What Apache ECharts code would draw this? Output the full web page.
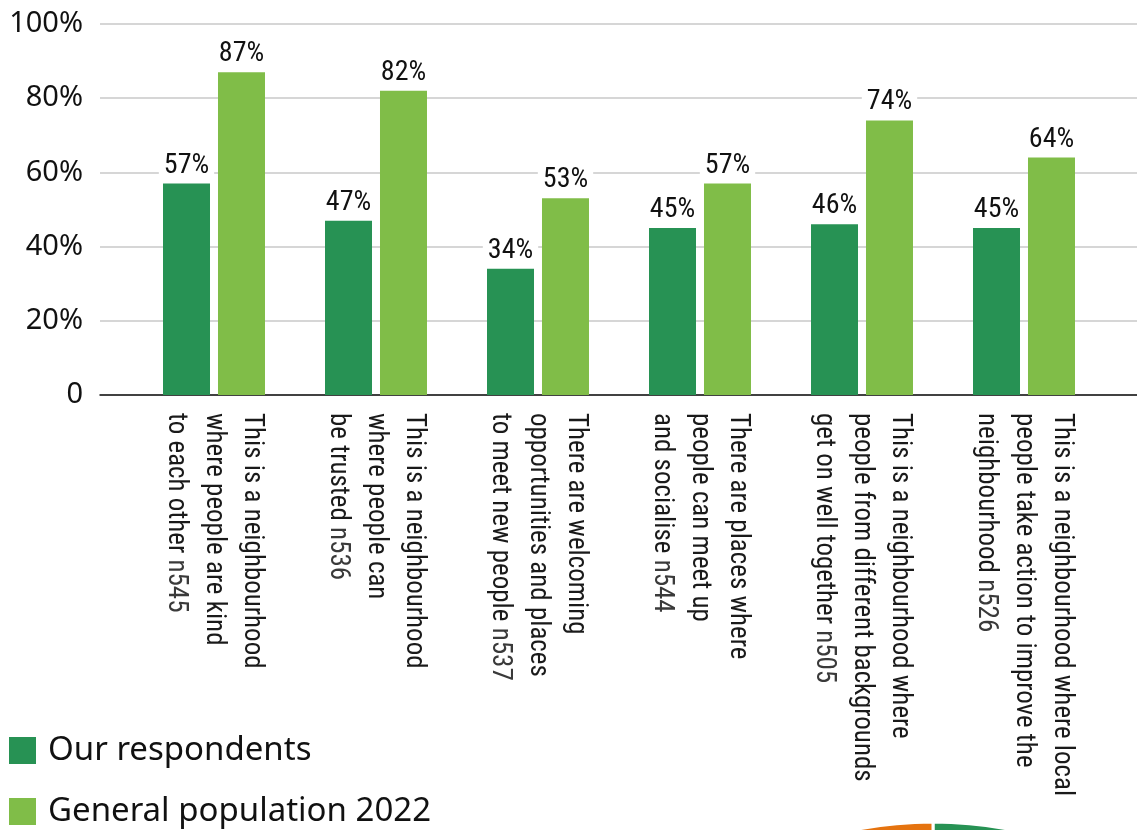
<!DOCTYPE html>
<html>
<head>
<meta charset="utf-8">
<script src="https://cdn.jsdelivr.net/npm/echarts@6/dist/echarts.min.js"></script>
<style>
  html, body { margin: 0; padding: 0; background: #fff; }
  #chart { width: 1137px; height: 830px; }
</style>
</head>
<body>
<div id="chart"></div>
<script>
// Statement labels (main text) and sample sizes
const statements = [
  'This is a neighbourhood\nwhere people are kind\nto each other',
  'This is a neighbourhood\nwhere people can\nbe trusted',
  'There are welcoming\nopportunities and places\nto meet new people',
  'There are places where\npeople can meet up\nand socialise',
  'This is a neighbourhood where\npeople from different backgrounds\nget on well together',
  'This is a neighbourhood where local\npeople take action to improve the\nneighbourhood'
];
const sampleSizes = ['n545', 'n536', 'n537', 'n544', 'n505', 'n526'];

// Percent agreeing
const ourRespondents = [57, 47, 34, 45, 46, 45];
const generalPopulation = [87, 82, 53, 57, 74, 64];

// Value-axis ticks
const yTicks = [0, 20, 40, 60, 80, 100];

// Next chart's pie, only its top edge shows at the foot of the page
const pieNames = ['Green share', 'Orange share'];
const pieValues = [52, 48];

const DARK = '#279254';
const LIGHT = '#80bd48';
const ORANGE = '#e5730f';
const NARROW = "'Liberation Sans Narrow', 'Roboto Condensed', Roboto, sans-serif";
const SANS = "'Noto Sans', sans-serif";

const chart = echarts.init(document.getElementById('chart'));

const valueLabel = {
  show: true,
  position: 'top',
  distance: 4,
  formatter: p => p.value + '%',
  fontFamily: NARROW,
  fontSize: 28,
  color: '#111',
  backgroundColor: '#fff',
  padding: [0, 5, 0, 5]
};

const legendText = {
  fontFamily: SANS,
  fontSize: 33,
  lineHeight: 30,
  color: '#111',
  padding: [0, 0, 0, 7]
};

// one legend entry per row
const legendRow = (name, top) => ({
  data: [name],
  orient: 'vertical',
  left: 9,
  top: top,
  padding: 0,
  icon: 'rect',
  itemWidth: 27,
  itemHeight: 27,
  textStyle: legendText,
  selectedMode: false
});

chart.setOption({
  animation: false,
  backgroundColor: '#fff',
  legend: [
    legendRow('Our respondents', 734),
    legendRow('General population 2022', 795)
  ],
  grid: [
    // full-width grid carrying the value scale and gridlines
    { left: 100, right: 0, top: 24, bottom: 435 },
    // bars sit in a slightly narrower band
    { left: 133, right: 32, top: 24, bottom: 435 }
  ],
  xAxis: [
    {
      gridIndex: 0,
      type: 'category',
      data: ['a'],
      axisLine: { show: true, lineStyle: { color: '#111', width: 1.5 } },
      axisTick: { show: false },
      axisLabel: { show: false }
    },
    {
      gridIndex: 1,
      type: 'category',
      data: statements,
      axisLine: { show: false },
      axisTick: { show: false },
      axisLabel: {
        interval: 0,
        rotate: -90,
        margin: 18,
        formatter: (v, i) => {
          const lines = v.split('\n');
          const last = lines.length - 1;
          return lines.map((l, k) =>
            k === last ? '{t|' + l + ' }{n|' + sampleSizes[i] + '}' : '{t|' + l + '}'
          ).join('\n');
        },
        rich: {
          t: { fontFamily: NARROW, fontSize: 27, color: '#1a1a1a', lineHeight: 38 },
          n: { fontFamily: NARROW, fontSize: 27, color: '#3a3a3a', lineHeight: 38 }
        }
      }
    }
  ],
  yAxis: [
    {
      gridIndex: 0,
      type: 'value',
      min: 0,
      max: 100,
      interval: 20,
      axisLine: { show: false },
      axisTick: { show: false },
      splitLine: { lineStyle: { color: '#c9c9c9', width: 1.5 } },
      axisLabel: {
        margin: 17,
        fontFamily: SANS,
        fontSize: 29,
        color: '#111',
        formatter: v => (yTicks.includes(v) && v !== 0 ? v + '%' : String(v))
      }
    },
    {
      gridIndex: 1,
      type: 'value',
      min: 0,
      max: 100,
      interval: 20,
      show: false
    }
  ],
  series: [
    {
      name: 'Our respondents',
      type: 'bar',
      xAxisIndex: 1,
      yAxisIndex: 1,
      data: ourRespondents,
      barWidth: 47,
      barGap: '17%',
      itemStyle: { color: DARK },
      label: valueLabel
    },
    {
      name: 'General population 2022',
      type: 'bar',
      xAxisIndex: 1,
      yAxisIndex: 1,
      data: generalPopulation,
      barWidth: 47,
      itemStyle: { color: LIGHT },
      label: valueLabel
    },
    {
      name: 'pie',
      type: 'pie',
      silent: true,
      center: [933, 1220],
      radius: 398,
      startAngle: 90,
      clockwise: true,
      label: { show: false },
      labelLine: { show: false },
      itemStyle: { borderColor: '#fff', borderWidth: 3 },
      data: pieNames.map((n, i) => ({
        name: n,
        value: pieValues[i],
        itemStyle: { color: i === 0 ? DARK : ORANGE }
      }))
    }
  ]
});
</script>
</body>
</html>
